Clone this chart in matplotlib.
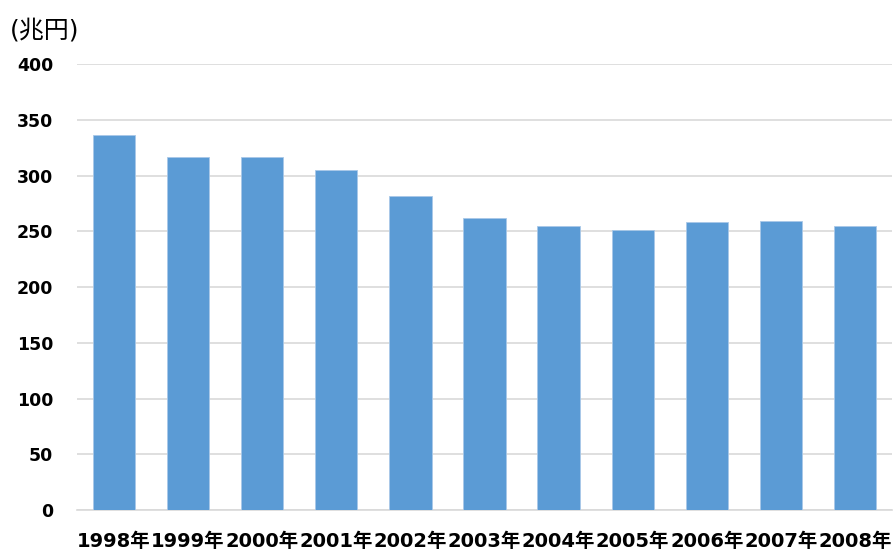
import numpy as np
import matplotlib
matplotlib.use('Agg')
import matplotlib.pyplot as plt

# DejaVu for the digits, Noto CJK picks up 年 / 兆円
plt.rcParams['font.family'] = ['DejaVu Sans', 'Noto Sans CJK JP']

years = ['1998年', '1999年', '2000年', '2001年', '2002年', '2003年',
         '2004年', '2005年', '2006年', '2007年', '2008年']
values = [336, 317, 317, 305, 282, 262, 255, 251, 258, 259, 255]
yticks = [0, 50, 100, 150, 200, 250, 300, 350, 400]

fig = plt.figure(figsize=(8.93, 5.51), dpi=100)
ax = fig.add_axes([0.0862, 0.0744, 0.9127, 0.8094])

x = np.arange(len(years))
ax.bar(x, values, width=0.57, color='#5b9bd5', edgecolor='#a9c8e8',
       linewidth=0.6, zorder=3)

ax.set_xlim(-0.5, len(years) - 0.5)
ax.set_ylim(0, 400)
ax.set_yticks(yticks)
ax.set_xticks(x)
ax.set_xticklabels(years)

ax.grid(axis='y', color='#d9d9d9', linewidth=1.2, zorder=0)
for s in ['top', 'right', 'left']:
    ax.spines[s].set_visible(False)
ax.spines['bottom'].set_color('#d9d9d9')
ax.spines['bottom'].set_linewidth(1.2)

ax.tick_params(axis='both', length=0)
ax.tick_params(axis='y', pad=17)
ax.tick_params(axis='x', pad=16)
for lab in ax.get_yticklabels():
    lab.set_fontsize(12.5)
    lab.set_fontweight('bold')
for lab in ax.get_xticklabels():
    lab.set_fontsize(14)
    lab.set_fontweight('bold')

fig.text(0.011, 0.945, '(兆円)', fontsize=18, va='center', ha='left')

fig.savefig('out.png', dpi=100)
